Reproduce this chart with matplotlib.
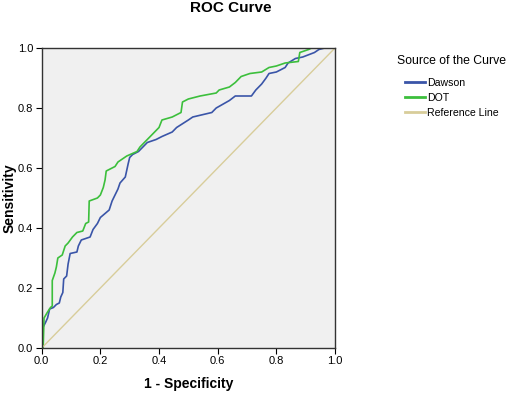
import matplotlib.pyplot as plt

plt.rcParams['font.family'] = ['Liberation Sans', 'DejaVu Sans']

# ROC points (1 - specificity, sensitivity)
dawson_fpr = [0, 0.003, 0.005, 0.013, 0.02, 0.027, 0.04, 0.05, 0.06, 0.065, 0.072, 0.075,
              0.085, 0.09, 0.097, 0.12, 0.125, 0.135, 0.165, 0.175, 0.19, 0.2, 0.23, 0.24,
              0.25, 0.26, 0.267, 0.285, 0.295, 0.30, 0.31, 0.33, 0.345, 0.36, 0.39, 0.41,
              0.445, 0.46, 0.50, 0.515, 0.58, 0.595, 0.64, 0.66, 0.715, 0.73, 0.75, 0.765,
              0.775, 0.80, 0.83, 0.84, 0.865, 0.89, 0.93, 0.945, 0.965, 1.0]
dawson_tpr = [0, 0.0, 0.07, 0.085, 0.10, 0.13, 0.135, 0.145, 0.15, 0.17, 0.185, 0.23,
              0.24, 0.28, 0.315, 0.32, 0.34, 0.36, 0.37, 0.395, 0.415, 0.435, 0.46, 0.49,
              0.51, 0.53, 0.55, 0.57, 0.615, 0.635, 0.645, 0.655, 0.67, 0.685, 0.695, 0.705,
              0.72, 0.735, 0.76, 0.77, 0.785, 0.80, 0.825, 0.84, 0.84, 0.86, 0.88, 0.90,
              0.915, 0.92, 0.935, 0.95, 0.965, 0.97, 0.985, 0.995, 1.0, 1.0]

dot_fpr = [0, 0.005, 0.008, 0.02, 0.03, 0.036, 0.036, 0.045, 0.05, 0.055, 0.07, 0.08,
           0.09, 0.105, 0.12, 0.14, 0.15, 0.16, 0.162, 0.19, 0.2, 0.21, 0.216, 0.22,
           0.24, 0.25, 0.26, 0.29, 0.325, 0.335, 0.355, 0.38, 0.40, 0.41, 0.445, 0.475,
           0.48, 0.50, 0.54, 0.595, 0.605, 0.64, 0.66, 0.68, 0.71, 0.75, 0.775, 0.80,
           0.83, 0.875, 0.88, 0.91, 0.92, 1.0]
dot_tpr = [0, 0.0, 0.10, 0.12, 0.135, 0.14, 0.225, 0.25, 0.27, 0.30, 0.31, 0.34,
           0.35, 0.37, 0.385, 0.39, 0.415, 0.42, 0.49, 0.50, 0.51, 0.535, 0.56, 0.59,
           0.60, 0.605, 0.62, 0.64, 0.655, 0.67, 0.69, 0.715, 0.735, 0.76, 0.77, 0.785,
           0.82, 0.83, 0.84, 0.85, 0.86, 0.87, 0.885, 0.905, 0.915, 0.92, 0.935, 0.94,
           0.95, 0.955, 0.985, 0.995, 1.0, 1.0]

ref_x = [0, 1]
ref_y = [0, 1]
ticks = [0.0, 0.2, 0.4, 0.6, 0.8, 1.0]

fig = plt.figure(figsize=(5.1, 3.97), dpi=100)
ax = fig.add_axes([41.7 / 510, 49 / 397, 293.3 / 510, 300 / 397])
ax.set_facecolor('#f0f0f0')

ax.plot(dawson_fpr, dawson_tpr, color='#3a55a8', lw=1.2, label='Dawson')
ax.plot(dot_fpr, dot_tpr, color='#3cbf3c', lw=1.2, label='DOT')
ax.plot(ref_x, ref_y, color='#d8cd9a', lw=1.0, label='Reference Line')

ax.set_xlim(0, 1)
ax.set_ylim(0, 1)
ax.set_xticks(ticks)
ax.set_yticks(ticks)
ax.set_xticklabels([f'{t:.1f}' for t in ticks])
ax.set_yticklabels([f'{t:.1f}' for t in ticks])
ax.tick_params(direction='out', length=4, width=0.8, labelsize=8, pad=2)
for s in ax.spines.values():
    s.set_color('#333333')
    s.set_linewidth(1.0)

ax.set_xlabel('1 - Specificity', fontsize=10, fontweight='bold')
ax.set_ylabel('Sensitivity', fontsize=10, fontweight='bold')
ax.xaxis.set_label_coords(0.5, -(385 - 349) / 300)
ax.yaxis.set_label_coords(-(41.7 - 10) / 293.3, 0.5)
ax.xaxis.label.set_va('center')
ax.yaxis.label.set_va('center')
fig.text(231 / 510, 1 - 8 / 397, 'ROC Curve', fontsize=11, fontweight='bold',
         ha='center', va='center')

fig.text(452 / 510, 1 - 61 / 397, 'Source of the Curve', fontsize=8.8,
         ha='center', va='center')
leg = fig.legend(loc='upper left', bbox_to_anchor=(405 / 510, 1 - 78 / 397), frameon=False,
                 fontsize=7.6, handlelength=1.9, handletextpad=0.15, labelspacing=0.48,
                 borderpad=0, borderaxespad=0)
for ln in leg.get_lines():
    ln.set_linewidth(2.0)

fig.savefig('out.png', dpi=100)
